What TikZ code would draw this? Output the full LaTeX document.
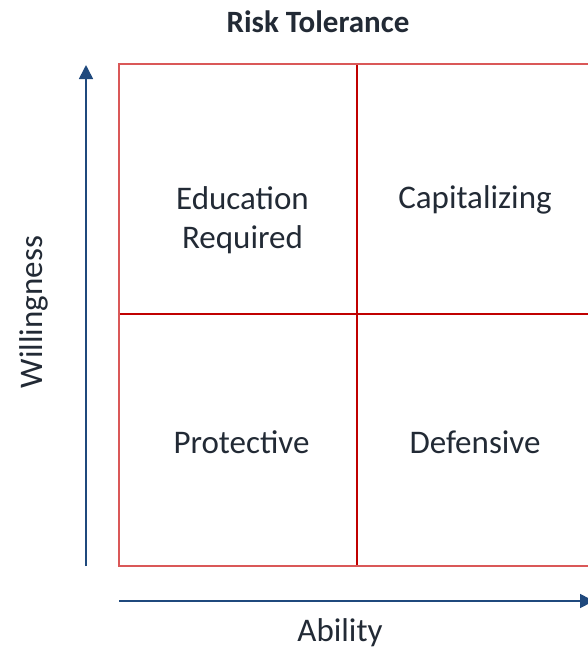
\documentclass[tikz,border=0pt]{standalone}
\usepackage{fontspec}
\setmainfont{Carlito}
\usetikzlibrary{arrows.meta}

\definecolor{inktext}{RGB}{34,42,53}
\definecolor{axisblue}{RGB}{31,73,125}
\definecolor{gridouter}{RGB}{218,88,88}
\definecolor{gridinner}{RGB}{192,0,0}

\begin{document}
\begin{tikzpicture}[x=1pt,y=1pt,
		lbl/.style={anchor=base,text=inktext,inner sep=0pt,font=\fontsize{33}{39}\selectfont},
		axis/.style={draw=axisblue,line width=1.6pt,-{Triangle[width=14pt,length=14pt]}}]
		\useasboundingbox (0,0) rectangle (588,-649);
		\clip (0,0) rectangle (588,-649);
		% quadrant grid
		\coordinate (nw) at (119,-64);
		\coordinate (se) at (592,-566);
		\draw[gridinner,line width=1.3pt]
			(357,-64) -- (357,-566)
			(119,-314) -- (592,-314);
		\draw[gridouter,line width=1.6pt] (nw) rectangle (se);
		% axes
		\coordinate (ybot) at (86,-566);
		\coordinate (ytop) at (86,-65);
		\coordinate (xleft) at (119,-601);
		\coordinate (xright) at (594,-601);
		\draw[axis] (ybot) -- (ytop);
		\draw[axis] (xleft) -- (xright);
		% labels
		\node[lbl,font=\fontsize{31}{37}\selectfont\bfseries] (title) at (318,-32) {Risk Tolerance};
		\node[lbl,rotate=90] (willing) at (42,-312) {Willingness};
		\node[lbl] (ability) at (340,-641) {Ability};
		\node[lbl] (edu) at (242.5,-209) {Education};
		\node[lbl] (req) at (242.5,-248) {Required};
		\node[lbl] (cap) at (475,-208) {Capitalizing};
		\foreach \name/\x/\txt in {prot/241.5/Protective,def/475/Defensive}{
			\node[lbl] (\name) at (\x,-453) {\txt};
			}
\end{tikzpicture}
\end{document}
